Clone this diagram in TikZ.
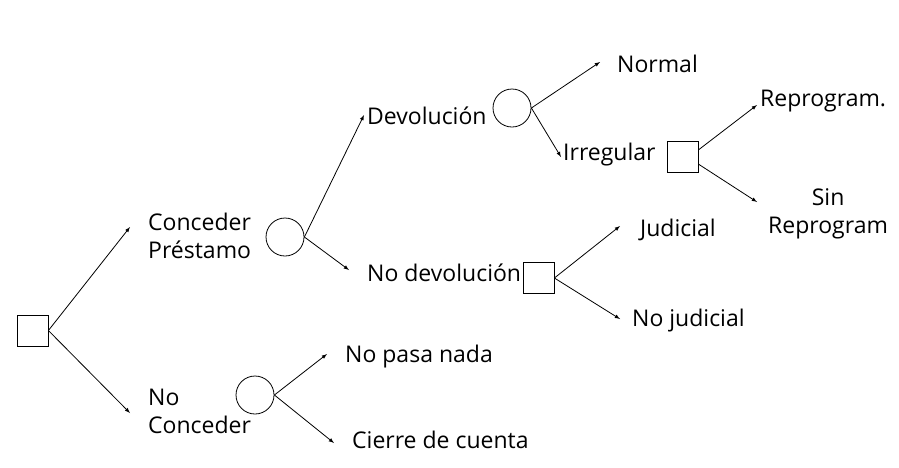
\documentclass[tikz,border=0pt]{standalone}
\usepackage{fontspec}
\setmainfont{Open Sans}
\usetikzlibrary{arrows}

\begin{document}
\begin{tikzpicture}[x=1pt,y=-1pt,
  decision/.style={draw,minimum size=31pt,inner sep=0pt,line width=0.8pt},
  chance/.style={draw,circle,minimum size=38pt,inner sep=0pt,line width=0.8pt},
  lbl/.style={anchor=west,inner sep=0pt,align=left,font=\fontsize{23}{28}\selectfont},
  branch/.style={-latex,line width=0.8pt}]
\useasboundingbox (0,0) rectangle (899,467);
% decision and chance nodes
\node[decision] (root) at (32.5,330.5) {};
\node[chance] (cpc) at (285,237) {};
\node[chance] (ncc) at (255,395) {};
\node[chance] (devc) at (512,108) {};
\node[decision] (irrsq) at (682.5,157) {};
\node[decision] (nodevsq) at (538.5,278) {};
% labels
\node[lbl] (cp) at (148,236) {Conceder\\Préstamo};
\node[lbl] (nc) at (148,411) {No\\Conceder};
\node[lbl] (dev) at (367,116) {Devolución};
\node[lbl] (nodev) at (367,273) {No devolución};
\node[lbl] (npn) at (345,357) {No pasa nada};
\node[lbl] (cdc) at (352,440) {Cierre de cuenta};
\node[lbl] (norm) at (617,64) {Normal};
\node[lbl] (irr) at (563,155) {Irregular};
\node[lbl] (rep) at (760,101) {Reprogram.};
\node[lbl,align=center] (sin) at (768,214) {Sin\\Reprogram};
\node[lbl] (jud) at (640,230) {Judicial};
\node[lbl] (nojud) at (632,321) {No judicial};
% branches
\draw[branch] (root.east) -- ([xshift=-18pt,yshift=9pt]cp.west);
\draw[branch] (root.east) -- ([xshift=-18pt,yshift=-2pt]nc.west);
\draw[branch] (cpc.east) -- ([xshift=-3pt,yshift=1pt]dev.west);
\draw[branch] (cpc.east) -- ([xshift=-18pt,yshift=3pt]nodev.west);
\draw[branch] (ncc.east) -- ([xshift=-18pt,yshift=3pt]npn.west);
\draw[branch] (ncc.east) -- ([xshift=-18pt,yshift=-3pt]cdc.west);
\draw[branch] (devc.east) -- ([xshift=-17pt,yshift=2pt]norm.west);
\draw[branch] (devc.east) -- ([xshift=-2pt,yshift=-2pt]irr.west);
\draw[branch] (irrsq.24) -- ([xshift=-3pt,yshift=-4pt]rep.west);
\draw[branch] (irrsq.-24) -- ([xshift=-11pt,yshift=12pt]sin.west);
\draw[branch] (nodevsq.east) -- ([xshift=-20pt,yshift=4pt]jud.west);
\draw[branch] (nodevsq.east) -- ([xshift=-12pt,yshift=2pt]nojud.west);
\end{tikzpicture}
\end{document}
